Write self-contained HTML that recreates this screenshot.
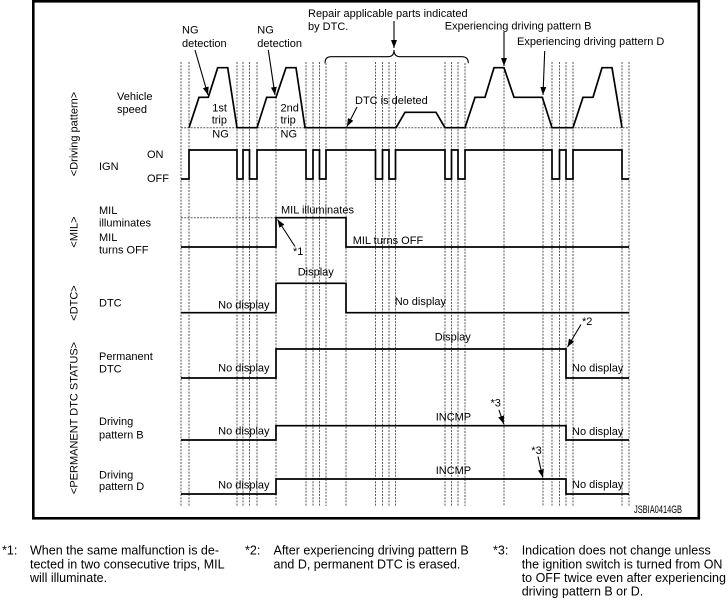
<!DOCTYPE html>
<html><head><meta charset="utf-8"><style>
html,body{margin:0;padding:0;background:#fff;}
svg{display:block;}
text{font-family:"Liberation Sans",Arial,sans-serif;font-size:11px;fill:#000;}
.fn{font-size:12.5px;}
</style></head><body>
<svg width="728" height="600" viewBox="0 0 728 600" xmlns="http://www.w3.org/2000/svg">
<defs>
<marker id="ah" markerUnits="userSpaceOnUse" markerWidth="8" markerHeight="6" refX="8" refY="3" orient="auto">
<path d="M0,0 L8,3 L0,6 z" fill="#000"/>
</marker>
</defs>
<rect x="0" y="0" width="728" height="600" fill="#fff"/>
<rect x="33.3" y="1.3" width="665.5" height="517" fill="none" stroke="#000" stroke-width="2.6"/>

<!-- dashed verticals -->
<g stroke="#5a5a5a" stroke-width="1" stroke-dasharray="2 1.2" fill="none">
<line x1="181" y1="62" x2="181" y2="506"/>
<line x1="189" y1="62" x2="189" y2="506"/>
<line x1="237" y1="62" x2="237" y2="506"/>
<line x1="243" y1="62" x2="243" y2="506"/>
<line x1="249.5" y1="62" x2="249.5" y2="506"/>
<line x1="257" y1="62" x2="257" y2="506"/>
<line x1="276" y1="97" x2="276" y2="506"/>
<line x1="306" y1="62" x2="306" y2="506"/>
<line x1="313" y1="62" x2="313" y2="506"/>
<line x1="319.5" y1="62" x2="319.5" y2="506"/>
<line x1="326" y1="63" x2="326" y2="506"/>
<line x1="346" y1="62" x2="346" y2="506"/>
<line x1="375.5" y1="62" x2="375.5" y2="506"/>
<line x1="382.5" y1="62" x2="382.5" y2="506"/>
<line x1="389" y1="62" x2="389" y2="506"/>
<line x1="395.5" y1="62" x2="395.5" y2="506"/>
<line x1="445" y1="62" x2="445" y2="506"/>
<line x1="451.5" y1="62" x2="451.5" y2="506"/>
<line x1="458" y1="62" x2="458" y2="506"/>
<line x1="465" y1="63" x2="465" y2="506"/>
<line x1="504" y1="68" x2="504" y2="506"/>
<line x1="543" y1="97" x2="543" y2="506"/>
<line x1="552" y1="62" x2="552" y2="506"/>
<line x1="559.5" y1="62" x2="559.5" y2="506"/>
<line x1="566" y1="62" x2="566" y2="506"/>
<line x1="573" y1="62" x2="573" y2="506"/>
<line x1="622" y1="62" x2="622" y2="506"/>
<line x1="629" y1="62" x2="629" y2="506"/>
<line x1="181" y1="127.7" x2="629" y2="127.7"/>
<line x1="181" y1="217.7" x2="276" y2="217.7"/>
</g>

<!-- traces -->
<g stroke="#000" stroke-width="1.7" fill="none" stroke-linejoin="miter">
<path d="M189,127.7 L199,97.3 L208.3,97.3 L217.7,67.7 L227.7,67.7 L237,127.7 L257,127.7 L266.7,97.3 L276,97.3 L286,67.7 L296,67.7 L305,127.7 L396,127.7 L405,112.3 L436,112.3 L445,127.7 L465,127.7 L475,97.3 L485,97.3 L494,67.7 L504,67.7 L514,97.3 L542.3,97.3 L552,127.7 L573,127.7 L583,97.3 L593,97.3 L602,67.7 L612,67.7 L622,127.7"/>
<path d="M181,179 L189,179 L189,150 L237,150 L237,179 L243,179 L243,150 L249.5,150 L249.5,179 L257,179 L257,150 L306,150 L306,179 L313,179 L313,150 L319.5,150 L319.5,179 L326,179 L326,150 L375.5,150 L375.5,179 L382.5,179 L382.5,150 L389,150 L389,179 L395.5,179 L395.5,150 L445,150 L445,179 L451.5,179 L451.5,150 L458,150 L458,179 L465,179 L465,150 L552,150 L552,179 L559.5,179 L559.5,150 L566,150 L566,179 L573,179 L573,150 L622,150 L622,179 L629,179"/>
<path d="M181,247 L276,247 L276,217.7 L346,217.7 L346,247 L629,247"/>
<path d="M181,312.7 L276,312.7 L276,283.3 L346,283.3 L346,312.7 L629,312.7"/>
<path d="M181,378 L276,378 L276,349 L566,349 L566,378 L629,378"/>
<path d="M181,440 L276,440 L276,425.7 L566,425.7 L566,440 L629,440"/>
<path d="M181,494 L276,494 L276,479 L566,479 L566,494 L629,494"/>
</g>

<!-- brace -->
<path d="M325,63.3 Q325,56.7 331,56.7 L388,56.7 Q394,56.7 394,50 Q394,56.7 400,56.7 L462,56.7 Q468.3,56.7 468.3,63.3" fill="none" stroke="#000" stroke-width="1.1"/>

<!-- arrows -->
<g stroke="#000" stroke-width="1.1" fill="none" marker-end="url(#ah)">
<line x1="195" y1="50" x2="208" y2="95"/>
<line x1="268.3" y1="50" x2="275" y2="95"/>
<line x1="394" y1="21" x2="394" y2="48"/>
<line x1="504" y1="32" x2="504" y2="66"/>
<line x1="544.7" y1="51" x2="543" y2="95"/>
<line x1="357" y1="107" x2="347" y2="126.5"/>
<line x1="295" y1="246.5" x2="277.5" y2="219.5"/>
<line x1="581" y1="324.5" x2="567.5" y2="347"/>
<line x1="499" y1="410" x2="503.7" y2="424"/>
<line x1="538" y1="456.5" x2="542.7" y2="477.5"/>
</g>

<!-- vertical labels -->
<text transform="translate(77.5,134) rotate(-90)" text-anchor="middle">&lt;Driving pattern&gt;</text>
<text transform="translate(77.5,232) rotate(-90)" text-anchor="middle">&lt;MIL&gt;</text>
<text transform="translate(77.5,303) rotate(-90)" text-anchor="middle">&lt;DTC&gt;</text>
<text transform="translate(77.5,418) rotate(-90)" text-anchor="middle">&lt;PERMANENT DTC STATUS&gt;</text>

<!-- left labels -->
<text x="117" y="100">Vehicle</text>
<text x="117" y="113">speed</text>
<text x="99" y="170">IGN</text>
<text x="147" y="158">ON</text>
<text x="147" y="182">OFF</text>
<text x="99" y="214">MIL</text>
<text x="99" y="226.7">illuminates</text>
<text x="99" y="241">MIL</text>
<text x="99" y="253.5">turns OFF</text>
<text x="99" y="306.7">DTC</text>
<text x="99" y="360">Permanent</text>
<text x="99" y="372.7">DTC</text>
<text x="99" y="425">Driving</text>
<text x="99" y="438.3">pattern B</text>
<text x="99" y="478.3">Driving</text>
<text x="99" y="490">pattern D</text>

<!-- top annotations -->
<text x="182" y="33.5">NG</text>
<text x="182" y="47">detection</text>
<text x="257.3" y="33.5">NG</text>
<text x="257.3" y="47">detection</text>
<text x="308" y="17">Repair applicable parts indicated</text>
<text x="308" y="30">by DTC.</text>
<text x="591.5" y="29.3" text-anchor="end">Experiencing driving pattern B</text>
<text x="517" y="45">Experiencing driving pattern D</text>
<text x="212.3" y="111.7">1st</text>
<text x="211.7" y="123.3">trip</text>
<text x="212.3" y="137.3">NG</text>
<text x="280.5" y="111.7">2nd</text>
<text x="280.5" y="123.3">trip</text>
<text x="280.5" y="137.3">NG</text>
<text x="355" y="104">DTC is deleted</text>

<!-- row annotations -->
<text x="281" y="213.3">MIL illuminates</text>
<text x="293" y="255" font-size="10px">*1</text>
<text x="352.7" y="244">MIL turns OFF</text>
<text x="297.7" y="275.7">Display</text>
<text x="269.5" y="308.3" text-anchor="end">No display</text>
<text x="394.7" y="305">No display</text>
<text x="434.7" y="340.7">Display</text>
<text x="582" y="325" font-size="10px">*2</text>
<text x="269.5" y="371.7" text-anchor="end">No display</text>
<text x="572" y="371.7">No display</text>
<text x="435.7" y="420.7">INCMP</text>
<text x="490.5" y="406.7" font-size="10px">*3</text>
<text x="269.5" y="434.3" text-anchor="end">No display</text>
<text x="572" y="435">No display</text>
<text x="435.7" y="474">INCMP</text>
<text x="531.3" y="454" font-size="10px">*3</text>
<text x="269.5" y="488.3" text-anchor="end">No display</text>
<text x="572" y="488">No display</text>
<text x="634" y="513" font-size="7.5px" textLength="48" lengthAdjust="spacingAndGlyphs">JSBIA0414GB</text>

<!-- footnotes -->
<text class="fn" x="2" y="554.3">*1:</text>
<text class="fn" x="30" y="554.3">When the same malfunction is de-</text>
<text class="fn" x="30" y="568.3">tected in two consecutive trips, MIL</text>
<text class="fn" x="30" y="581.8">will illuminate.</text>
<text class="fn" x="245" y="554.3">*2:</text>
<text class="fn" x="273.5" y="554.3">After experiencing driving pattern B</text>
<text class="fn" x="273.5" y="568.3">and D, permanent DTC is erased.</text>
<text class="fn" x="493" y="554.3">*3:</text>
<text class="fn" x="521.7" y="554.3">Indication does not change unless</text>
<text class="fn" x="521.7" y="568.3">the ignition switch is turned from ON</text>
<text class="fn" x="521.7" y="581.8">to OFF twice even after experiencing</text>
<text class="fn" x="521.7" y="595.7">driving pattern B or D.</text>
</svg>
</body></html>
